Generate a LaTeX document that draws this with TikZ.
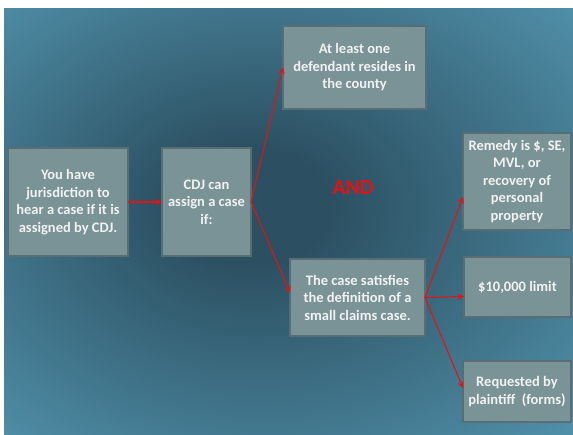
\documentclass[tikz,border=0pt]{standalone}
\usepackage{fontspec}
\setmainfont{Carlito}
\usetikzlibrary{arrows.meta}
\definecolor{boxfill}{RGB}{122,147,151}
\definecolor{boxline}{RGB}{88,110,116}
\definecolor{bgin}{RGB}{44,80,98}
\definecolor{bgout}{RGB}{84,152,178}
\definecolor{arrowred}{RGB}{228,18,18}
\definecolor{txt}{RGB}{242,242,242}
\pgfdeclareradialshading{bgshade}{\pgfpoint{-4bp}{2bp}}{color(0bp)=(bgin); color(7bp)=(bgin); color(40bp)=(bgout); color(50bp)=(bgout)}
\tikzset{
  box/.style={draw=boxline, line width=2pt, fill=boxfill, text=txt,
    font=\fontsize{14.5}{17.5}\selectfont\bfseries, align=center,
    inner sep=0pt, outer sep=0pt},
  arr/.style={draw=arrowred, line width=1.1pt, -{Straight Barb[length=5pt,width=5pt]}},
}
\begin{document}
\begin{tikzpicture}[x=1pt,y=-1pt]
\useasboundingbox (0,0) rectangle (573,434);
\fill[white] (0,0) rectangle (573,434);
\shade[shading=bgshade] (4,8) rectangle (573,434);

\node[box, minimum width=120pt, minimum height=108pt] (b1) at (68,202)
  {You have\\jurisdiction to\\hear a case if it is\\assigned by CDJ.};
\node[box, minimum width=89pt, minimum height=108pt] (b2) at (206.5,202)
  {CDJ can\\assign a case\\if:};
\node[box, minimum width=143pt, minimum height=83pt] (b3) at (354.5,67.5)
  {At least one\\defendant resides in\\the county};
\node[box, minimum width=108pt, minimum height=97pt] (b4) at (517,181.5)
  {Remedy is \$, SE,\\MVL, or\\recovery of\\personal\\property};
\node[box, minimum width=135pt, minimum height=77pt] (b5) at (357.5,297.5)
  {The case satisfies\\the definition of a\\small claims case.};
\node[box, minimum width=107pt, minimum height=60pt] (b6) at (517.5,287)
  {\$10,000 limit};
\node[box, minimum width=108pt, minimum height=61pt] (b7) at (517,391.5)
  {Requested by\\plaintiff~ (forms)};

\node[text=arrowred, font=\fontsize{21.6}{24}\selectfont\bfseries] (and) at (353,187) {AND};

\draw[arr] (b1.east) -- (b2.west);
\draw[arr] (b2.east) -- (b3.west);
\draw[arr] (b2.east) -- ([yshift=5pt]b5.west);
\draw[arr] (b5.east) -- ([yshift=-15.5pt]b4.west);
\draw[arr] (b5.east) -- ([yshift=-9.5pt]b6.west);
\draw[arr] (b5.east) -- ([yshift=3.5pt]b7.west);
\end{tikzpicture}
\end{document}
